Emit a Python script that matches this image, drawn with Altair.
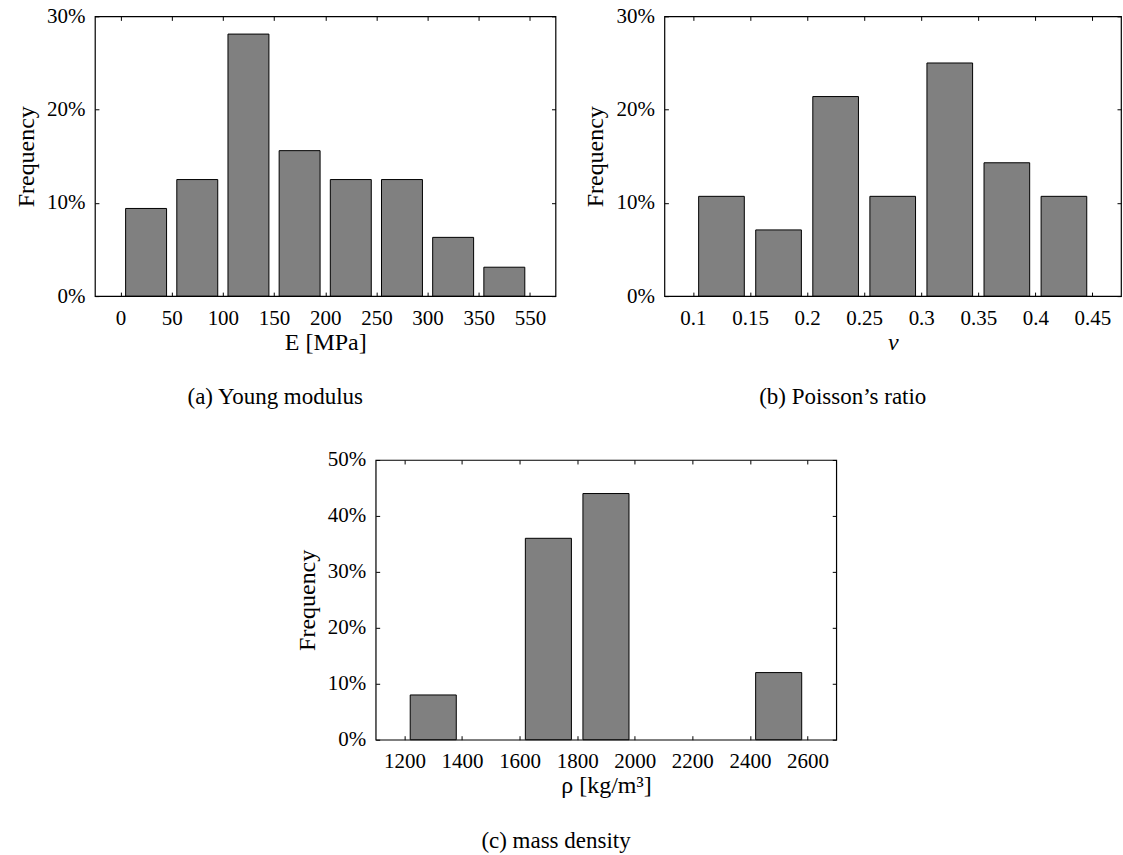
import json
import altair as alt
import pandas as pd

# ---- data ----
E_ticks = ["0", "50", "100", "150", "200", "250", "300", "350", "550"]
E_freq = [9.4, 12.5, 28.1, 15.6, 12.5, 12.5, 6.3, 3.1]

nu_ticks = ["0.1", "0.15", "0.2", "0.25", "0.3", "0.35", "0.4", "0.45"]
nu_freq = [10.7, 7.1, 21.4, 10.7, 25.0, 14.3, 10.7]

rho_ticks = ["1200", "1400", "1600", "1800", "2000", "2200", "2400", "2600"]
rho_freq = [8.0, 0.0, 36.0, 44.0, 0.0, 0.0, 12.0]

FONT = "Liberation Serif"
PW, PH = 461, 280


def panel(ticks, freqs, ymax, xtitle, caption, width, italic=False):
    n = len(ticks)
    df = pd.DataFrame({"i": list(range(len(freqs))), "freq": freqs})
    arr = json.dumps(ticks)
    xs = alt.Scale(domain=[-0.5, n - 0.5], nice=False, zero=False)
    ys = alt.Scale(domain=[0, ymax], nice=False)
    yvals = list(range(0, ymax + 1, 10))
    base = alt.Chart(df).transform_filter("datum.freq > 0").transform_calculate(
        x0="datum.i + 0.1", x1="datum.i + 0.9", y0="0"
    )
    bars = base.mark_rect(fill="#808080", stroke="black", strokeWidth=1).encode(
        x=alt.X("x0:Q", scale=xs, axis=alt.Axis(
            values=list(range(n)), labelExpr=f"{arr}[datum.value]",
            title=xtitle, domain=False, grid=False, offset=-4, tickSize=4,
            labelPadding=11, titlePadding=2,
            titleFontStyle="italic" if italic else "normal")),
        x2="x1:Q",
        y=alt.Y("freq:Q", scale=ys, axis=alt.Axis(
            values=yvals, labelExpr="datum.value + '%'", title="Frequency",
            domain=False, grid=False, offset=-4, tickSize=4, labelPadding=10,
            titlePadding=8)),
        y2="y0:Q",
    )
    frame = base.mark_rect(opacity=0).encode(
        x=alt.X("x0:Q", scale=xs, axis=alt.Axis(
            orient="top", values=list(range(n)), labels=False, title=None,
            domain=False, grid=False, offset=-4, tickSize=4)),
        x2="x1:Q",
        y=alt.Y("freq:Q", scale=ys, axis=alt.Axis(
            orient="right", values=yvals, labels=False, title=None,
            domain=False, grid=False, offset=-4, tickSize=4)),
        y2="y0:Q",
    )
    return alt.layer(bars, frame).resolve_axis(x="independent", y="independent").properties(
        width=width, height=PH,
        view=alt.ViewBackground(stroke="black", strokeWidth=1.2),
        title=alt.TitleParams(caption, orient="bottom", anchor="middle", dx=-50,
                              offset=32, font=FONT, fontSize=23, fontWeight="normal",
                              color="black"),
    )


a = panel(E_ticks, E_freq, 30, "E [MPa]", "(a)  Young modulus", PW)
b = panel(nu_ticks, nu_freq, 30, "ν", "(b)  Poisson’s ratio", 457, italic=True)
c = panel(rho_ticks, rho_freq, 50, "ρ [kg/m³]", "(c)  mass density", PW)

spacer = alt.Chart(pd.DataFrame({"s": [0]})).mark_point(opacity=0).encode(
    x=alt.value(0), y=alt.value(0)
).properties(width=281, height=PH)

row1 = alt.hconcat(a, b, spacing=109, bounds="flush")
row2 = alt.hconcat(spacer, c, spacing=0, bounds="flush")

chart = alt.vconcat(row1, row2, spacing=444, bounds="flush").properties(
    padding={"left": 13, "top": 4, "right": 0, "bottom": 0}
).configure(
    background="white"
).configure_view(strokeWidth=0).configure_axis(
    labelFont=FONT, labelFontSize=21, labelColor="black",
    titleFont=FONT, titleFontSize=24, titleColor="black", titleFontWeight="normal",
    tickColor="black", tickWidth=1,
)

chart.save("out.html", embed_options={"renderer": "svg", "actions": False})
